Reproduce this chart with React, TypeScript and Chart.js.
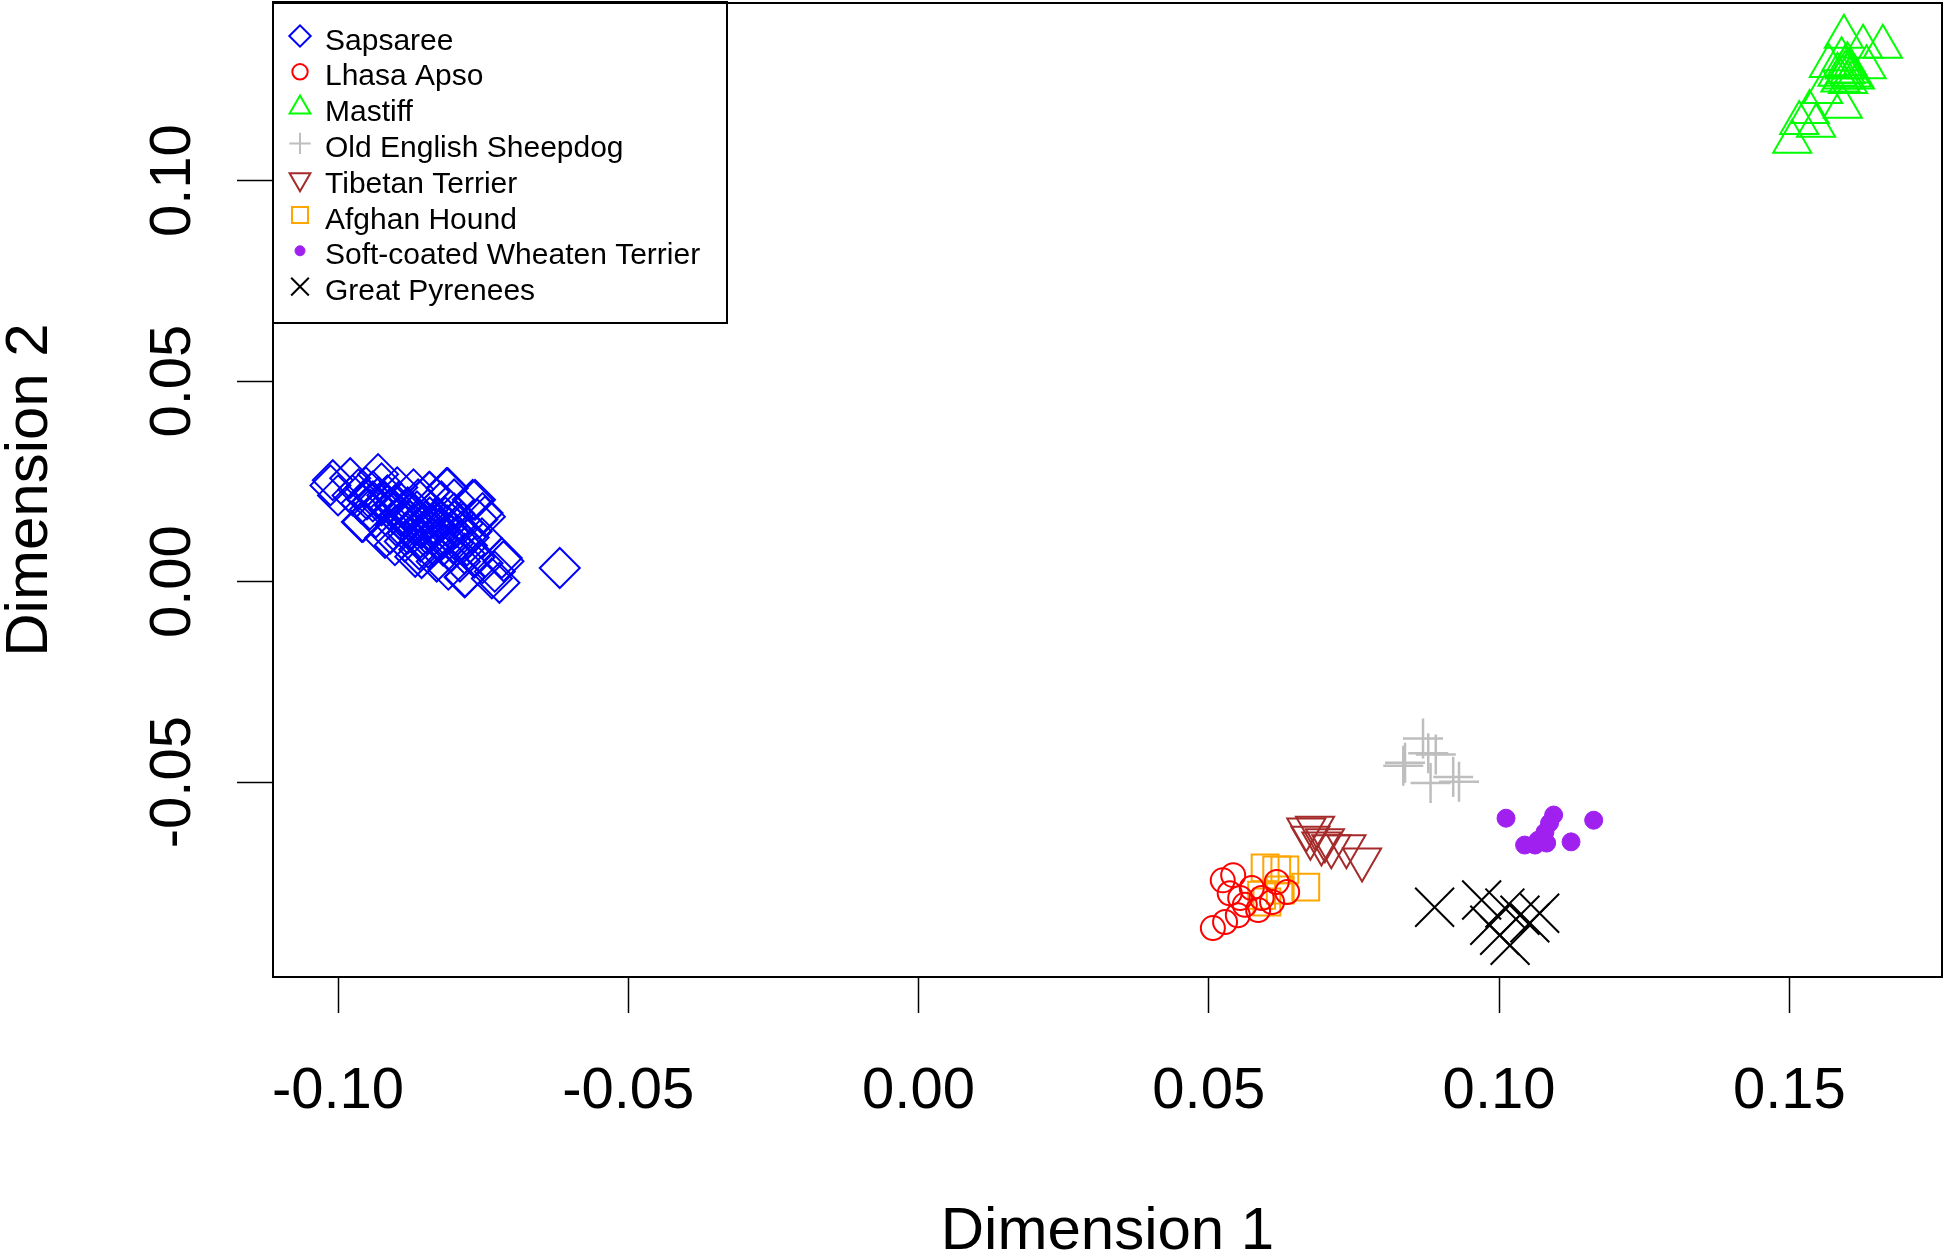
import React, { useEffect, useRef } from 'react';
import { Chart, registerables } from 'chart.js';
import { drawPoint } from 'chart.js/helpers';

Chart.register(...registerables);

const breeds = [
  'Sapsaree',
  'Lhasa Apso',
  'Mastiff',
  'Old English Sheepdog',
  'Tibetan Terrier',
  'Afghan Hound',
  'Soft-coated Wheaten Terrier',
  'Great Pyrenees',
];

const xTicks = [-0.1, -0.05, 0, 0.05, 0.1, 0.15];
const xTickLabels = ['-0.10', '-0.05', '0.00', '0.05', '0.10', '0.15'];
const yTicks = [-0.05, 0, 0.05, 0.1];
const yTickLabels = ['-0.05', '0.00', '0.05', '0.10'];
const xTitle = 'Dimension 1';
const yTitle = 'Dimension 2';

const X_MIN = -0.1112;
const X_MAX = 0.1763;
const Y_MIN = -0.0986;
const Y_MAX = 0.1443;

const sapsareeX = [
  -0.1009, -0.0931, -0.0979, -0.0813, -0.0843, -0.0768, -0.0751, -0.0718, -0.0782, -0.0722,
  -0.0856, -0.0751, -0.0957, -0.1000, -0.1013, -0.0919, -0.0867, -0.0902, -0.0842, -0.0811,
  -0.0764, -0.0747, -0.0715, -0.0735, -0.0781, -0.0730, -0.0752, -0.0959, -0.0618,
  -0.0965, -0.0950, -0.0940, -0.0925, -0.0915, -0.0905, -0.0895, -0.0890, -0.0880, -0.0875,
  -0.0870, -0.0862, -0.0858, -0.0850, -0.0845, -0.0840, -0.0835, -0.0828, -0.0822, -0.0818,
  -0.0812, -0.0805, -0.0800, -0.0795, -0.0790, -0.0785, -0.0778, -0.0770, -0.0765, -0.0760,
  -0.0910, -0.0885, -0.0860, -0.0935, -0.0945, -0.0975, -0.0925, -0.0898, -0.0870, -0.0830,
  -0.0810, -0.0800,
  -0.0920, -0.0912, -0.0902, -0.0893, -0.0883, -0.0876, -0.0868, -0.0864, -0.0855, -0.0848,
  -0.0842, -0.0836, -0.0830, -0.0825, -0.0819, -0.0815, -0.0808, -0.0802, -0.0797, -0.0788,
  -0.0782, -0.0775, -0.0900, -0.0880, -0.0858, -0.0845, -0.0930, -0.0952, -0.0960, -0.0940,
];
const sapsareeY = [
  0.0253, 0.0268, 0.0258, 0.0233, 0.0224, 0.0204, 0.0171, 0.0059, 0.0011, -0.0003,
  0.0059, 0.0046, 0.0149, 0.0215, 0.0240, 0.0109, 0.0062, 0.0091, 0.0224, 0.0233,
  0.0204, 0.0162, 0.0051, 0.0008, 0.0012, 0.0025, 0.0108, 0.0149, 0.0034,
  0.0230, 0.0205, 0.0225, 0.0190, 0.0215, 0.0170, 0.0200, 0.0150, 0.0185, 0.0130,
  0.0165, 0.0205, 0.0110, 0.0150, 0.0180, 0.0125, 0.0090, 0.0160, 0.0200, 0.0110,
  0.0140, 0.0075, 0.0170, 0.0115, 0.0050, 0.0145, 0.0090, 0.0125, 0.0060, 0.0155,
  0.0120, 0.0100, 0.0080, 0.0160, 0.0180, 0.0215, 0.0245, 0.0235, 0.0230, 0.0050,
  0.0030, 0.0205,
  0.0200, 0.0180, 0.0190, 0.0165, 0.0175, 0.0150, 0.0140, 0.0175, 0.0135, 0.0120,
  0.0160, 0.0140, 0.0105, 0.0130, 0.0090, 0.0160, 0.0120, 0.0095, 0.0135, 0.0105,
  0.0070, 0.0110, 0.0140, 0.0120, 0.0100, 0.0085, 0.0210, 0.0235, 0.0195, 0.0200,
];

const lhasaX = [0.0507, 0.0528, 0.0550, 0.0524, 0.0542, 0.0536, 0.0554, 0.0562, 0.0574, 0.0591, 0.0617, 0.0635, 0.0609, 0.0585];
const lhasaY = [-0.0864, -0.0849, -0.0832, -0.0745, -0.0732, -0.0777, -0.0789, -0.0806, -0.0764, -0.0789, -0.0749, -0.0774, -0.0799, -0.0819];

const mastiffX = [0.1594, 0.1627, 0.1661, 0.1590, 0.1568, 0.1633, 0.1601, 0.1558, 0.1592, 0.1535, 0.1517, 0.1505, 0.1546, 0.1592, 0.1604, 0.1583, 0.1613, 0.1596, 0.1597, 0.1588, 0.1608, 0.1600];
const mastiffY = [0.1359, 0.1334, 0.1334, 0.1303, 0.1286, 0.1283, 0.1246, 0.1221, 0.1184, 0.1171, 0.1144, 0.1097, 0.1137, 0.1257, 0.1272, 0.1264, 0.1257, 0.1282, 0.1270, 0.1250, 0.1262, 0.1290];

const sheepdogX = [0.0869, 0.0835, 0.0891, 0.0921, 0.0931, 0.0882, 0.0878, 0.0838];
const sheepdogY = [-0.0391, -0.0459, -0.0431, -0.0487, -0.0499, -0.0502, -0.0428, -0.0452];

const tibetanX = [0.0668, 0.0683, 0.0675, 0.0694, 0.0711, 0.0737, 0.0764, 0.0700];
const tibetanY = [-0.0618, -0.0614, -0.0639, -0.0653, -0.0660, -0.0660, -0.0693, -0.0645];

const afghanX = [0.0597, 0.0617, 0.0631, 0.0667, 0.0600, 0.0591, 0.0623];
const afghanY = [-0.0714, -0.0719, -0.0719, -0.0762, -0.0799, -0.0782, -0.0769];

const wheatenX = [0.1012, 0.1094, 0.1087, 0.1079, 0.1067, 0.1044, 0.1082, 0.1124, 0.1163, 0.1062];
const wheatenY = [-0.0590, -0.0582, -0.0602, -0.0625, -0.0645, -0.0657, -0.0652, -0.0649, -0.0595, -0.0657];

const pyreneesX = [0.0889, 0.0970, 0.1010, 0.1036, 0.1070, 0.1053, 0.0984, 0.1001, 0.1019];
const pyreneesY = [-0.0812, -0.0794, -0.0814, -0.0832, -0.0827, -0.0851, -0.0857, -0.0882, -0.0907];

const seriesX = [sapsareeX, lhasaX, mastiffX, sheepdogX, tibetanX, afghanX, wheatenX, pyreneesX];
const seriesY = [sapsareeY, lhasaY, mastiffY, sheepdogY, tibetanY, afghanY, wheatenY, pyreneesY];

const colors = ['#0000FF', '#FF0000', '#00FF00', '#BEBEBE', '#A52A2A', '#FFA500', '#A020F0', '#000000'];
const pointStyles = ['rectRot', 'circle', 'triangle', 'cross', 'triangle', 'rect', 'circle', 'crossRot'];
const rotations = [0, 0, 0, 0, 180, 0, 0, 0];
const plotRadius = [20, 12, 22, 20, 22, 19, 9, 27.5];
const legendRadius = [10.7, 7.7, 12, 10.7, 12, 11.3, 5, 12.5];
const filled = [false, false, false, false, false, false, true, false];
const lineWidths = [2, 2, 2, 2.5, 2, 2, 1, 2];

const FONT = '"Liberation Sans", Arial, sans-serif';

const decorPlugin = {
  id: 'rDecor',
  afterDraw(chart: any) {
    const ctx = chart.ctx;
    const area = chart.chartArea;
    const xs = chart.scales.x;
    const ys = chart.scales.y;
    ctx.save();
    // plot box
    ctx.strokeStyle = '#000';
    ctx.lineWidth = 2;
    ctx.strokeRect(area.left, area.top, area.right - area.left, area.bottom - area.top);

    ctx.fillStyle = '#000';
    // x tick labels
    ctx.font = `58px ${FONT}`;
    ctx.textAlign = 'center';
    ctx.textBaseline = 'alphabetic';
    xTicks.forEach((v, i) => {
      ctx.fillText(xTickLabels[i], xs.getPixelForValue(v), area.bottom + 131);
    });
    // y tick labels (rotated)
    yTicks.forEach((v, i) => {
      ctx.save();
      ctx.translate(area.left - 83, ys.getPixelForValue(v));
      ctx.rotate(-Math.PI / 2);
      ctx.fillText(yTickLabels[i], 0, 0);
      ctx.restore();
    });
    // axis titles
    ctx.font = `60px ${FONT}`;
    ctx.fillText(xTitle, (area.left + area.right) / 2, area.bottom + 272);
    ctx.save();
    ctx.translate(area.left - 226, (area.top + area.bottom) / 2);
    ctx.rotate(-Math.PI / 2);
    ctx.fillText(yTitle, 0, 0);
    ctx.restore();

    // legend
    const lx = area.left;
    const ly = area.top - 1;
    ctx.lineWidth = 2;
    ctx.strokeStyle = '#000';
    ctx.strokeRect(lx, ly, 454, 321);
    ctx.font = `30px ${FONT}`;
    ctx.textAlign = 'left';
    breeds.forEach((name, i) => {
      const cy = ly + 34 + i * 35.8;
      ctx.save();
      ctx.strokeStyle = colors[i];
      ctx.fillStyle = filled[i] ? colors[i] : 'rgba(0,0,0,0)';
      ctx.lineWidth = filled[i] ? 1 : 2;
      drawPoint(ctx, { pointStyle: pointStyles[i], rotation: rotations[i], radius: legendRadius[i], borderWidth: ctx.lineWidth }, lx + 27, cy);
      ctx.restore();
      ctx.fillStyle = '#000';
      ctx.fillText(name, lx + 52, cy + 13.5);
    });
    ctx.restore();
  },
};

export default function App() {
  const ref = useRef<HTMLCanvasElement | null>(null);
  useEffect(() => {
    if (!ref.current) return;
    const datasets = breeds.map((name, i) => ({
      label: name,
      data: seriesX[i].map((x, j) => ({ x, y: seriesY[i][j] })),
      pointStyle: pointStyles[i],
      pointRotation: rotations[i],
      pointRadius: plotRadius[i],
      pointBorderWidth: lineWidths[i],
      pointBorderColor: colors[i],
      pointBackgroundColor: filled[i] ? colors[i] : 'rgba(0,0,0,0)',
      showLine: false,
    }));
    const gridOpts = {
      drawOnChartArea: false,
      drawTicks: true,
      tickLength: 36,
      tickColor: '#000',
      tickWidth: 1.5,
    };
    const chart = new Chart(ref.current, {
      type: 'scatter',
      data: { datasets },
      options: {
        responsive: false,
        animation: false,
        devicePixelRatio: 1,
        layout: { autoPadding: false, padding: { left: 237, right: 4, top: 3, bottom: 240 } },
        plugins: { legend: { display: false }, tooltip: { enabled: false } },
        scales: {
          x: {
            type: 'linear',
            min: X_MIN,
            max: X_MAX,
            afterBuildTicks: (s: any) => { s.ticks = xTicks.map((v) => ({ value: v })); },
            ticks: { display: false },
            grid: gridOpts,
            border: { display: false },
          },
          y: {
            type: 'linear',
            min: Y_MIN,
            max: Y_MAX,
            afterBuildTicks: (s: any) => { s.ticks = yTicks.map((v) => ({ value: v })); },
            ticks: { display: false },
            grid: gridOpts,
            border: { display: false },
          },
        },
      } as any,
      plugins: [decorPlugin],
    });
    return () => chart.destroy();
  }, []);
  return (
    <div style={{ position: 'fixed', left: 0, top: 0, width: 1946, height: 1253, background: '#fff' }}>
      <canvas ref={ref} width={1946} height={1253} style={{ width: 1946, height: 1253, display: 'block' }} />
    </div>
  );
}
